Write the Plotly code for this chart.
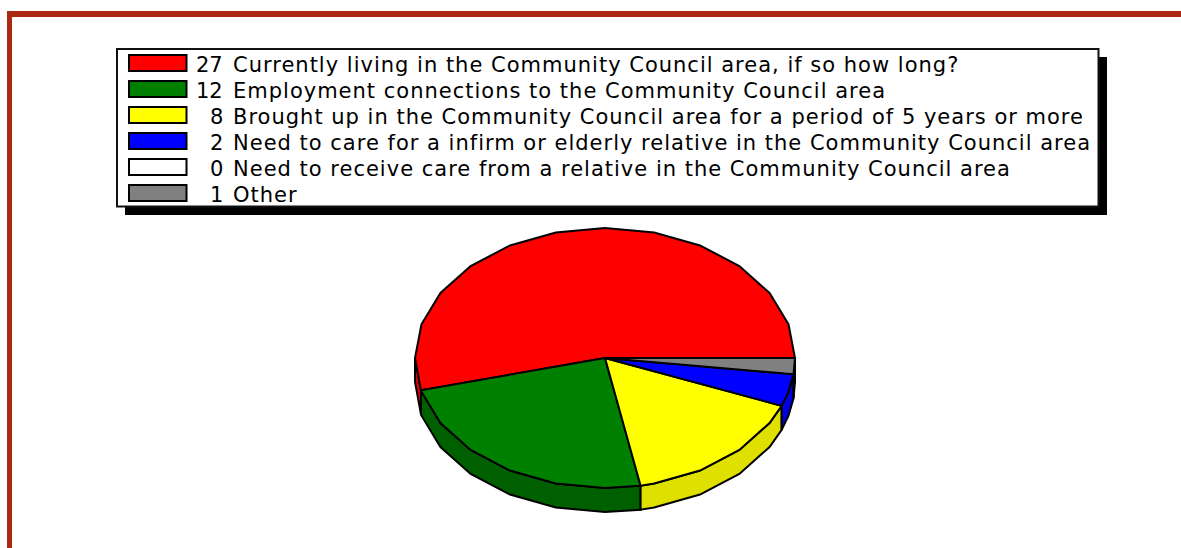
import numpy as np
import plotly.graph_objects as go

# Survey answers
counts = [27, 12, 8, 2, 0, 1]
reasons = [
    "Currently living in the Community Council area, if so how long?",
    "Employment connections to the Community Council area",
    "Brought up in the Community Council area for a period of 5 years or more",
    "Need to care for a infirm or elderly relative in the Community Council area",
    "Need to receive care from a relative in the Community Council area",
    "Other",
]
top_colors = ["#ff0000", "#008000", "#ffff00", "#0000ff", "#ffffff", "#808080"]
side_colors = ["#e00000", "#006000", "#e0e000", "#0000e0", "#e0e0e0", "#707070"]

WIDTH, HEIGHT = 1181, 548
CX, CY, RX, RY, DEPTH = 605, 358, 190, 130, 24
ARC_STEP = 15
OUTLINE = dict(color="#000000", width=2)
FRAME = "#a92a10"
FONT = "DejaVu Sans"
FONT_SIZE = 21
TRACKING_PX = 1.0


def arc(start, end):
    """Angles (degrees) along an arc, faceted at a fixed step."""
    inner = np.arange(np.ceil(start / ARC_STEP) * ARC_STEP, end, ARC_STEP)
    inner = inner[inner > start]
    return np.concatenate(([start], inner, [end]))


def project(angles, drop=0.0):
    rad = np.radians(angles)
    return CX + RX * np.cos(rad), CY - RY * np.sin(rad) + drop


# Slice boundaries run counter-clockwise from three o'clock
total = sum(counts)
edges = np.concatenate(([0.0], np.cumsum(counts) / total * 360.0))

fig = go.Figure()

# Rim of the disc: only the part that faces the viewer (180-360 degrees)
for i, count in enumerate(counts):
    lo, hi = max(edges[i], 180.0), edges[i + 1]
    if count == 0 or hi <= lo:
        continue
    a = arc(lo, hi)
    x_up, y_up = project(a)
    x_dn, y_dn = project(a[::-1], DEPTH)
    fig.add_trace(go.Scatter(
        x=np.concatenate((x_up, x_dn, x_up[:1])),
        y=np.concatenate((y_up, y_dn, y_up[:1])),
        mode="lines", fill="toself", fillcolor=side_colors[i],
        line=OUTLINE, hoverinfo="skip", showlegend=False,
    ))

# Top face of each slice
for i, count in enumerate(counts):
    if count == 0:
        continue
    x_arc, y_arc = project(arc(edges[i], edges[i + 1]))
    fig.add_trace(go.Scatter(
        x=np.concatenate(([CX], x_arc, [CX])),
        y=np.concatenate(([CY], y_arc, [CY])),
        mode="lines", fill="toself", fillcolor=top_colors[i],
        line=OUTLINE, name=reasons[i], text=f"{count} {reasons[i]}",
        hoverinfo="text", showlegend=False,
    ))

shapes = [
    # Page frame along the top and left edges
    dict(type="rect", x0=7, x1=WIDTH, y0=11, y1=17, fillcolor=FRAME, line_width=0),
    dict(type="rect", x0=7, x1=12, y0=11, y1=HEIGHT, fillcolor=FRAME, line_width=0),
    # Legend panel and its drop shadow
    dict(type="rect", x0=125, x1=1107, y0=57, y1=215, fillcolor="#000000", line_width=0),
    dict(type="rect", x0=117, x1=1098.5, y0=49, y1=206.5, fillcolor="#ffffff",
         line=dict(color="#111111", width=2)),
]
annotations = []
ROW_TOP, ROW_GAP = 55, 26
for i, (count, reason) in enumerate(zip(counts, reasons)):
    top = ROW_TOP + i * ROW_GAP
    shapes.append(dict(type="rect", x0=129, x1=186.5, y0=top, y1=top + 16,
                       fillcolor=top_colors[i], line=dict(color="#000000", width=2)))
    annotations.append(dict(x=225, y=top + 10, text=str(count), xanchor="right",
                            align="right", yanchor="middle", showarrow=False,
                            xref="x", yref="y",
                            font=dict(family=FONT, size=FONT_SIZE, color="#000000")))
    annotations.append(dict(x=231, y=top + 10, text=reason, xanchor="left",
                            align="left", yanchor="middle", showarrow=False,
                            xref="x", yref="y",
                            font=dict(family=FONT, size=FONT_SIZE, color="#000000")))

fig.update_layout(
    width=WIDTH, height=HEIGHT,
    margin=dict(l=0, r=0, t=0, b=0, pad=0),
    paper_bgcolor="#ffffff", plot_bgcolor="#ffffff",
    xaxis=dict(range=[0, WIDTH], visible=False, fixedrange=True),
    yaxis=dict(range=[HEIGHT, 0], visible=False, fixedrange=True),
    shapes=shapes, annotations=annotations, showlegend=False,
)

# Open up the tracking of the legend sentences; the counts keep normal spacing
tracking_js = f"""
document.querySelectorAll('.annotation-text').forEach(function (t) {{
    if (t.textContent.length > 2) {{ t.style.letterSpacing = '{TRACKING_PX}px'; }}
}});
"""
fig.write_html("out.html", config=dict(displayModeBar=False), post_script=tracking_js)
